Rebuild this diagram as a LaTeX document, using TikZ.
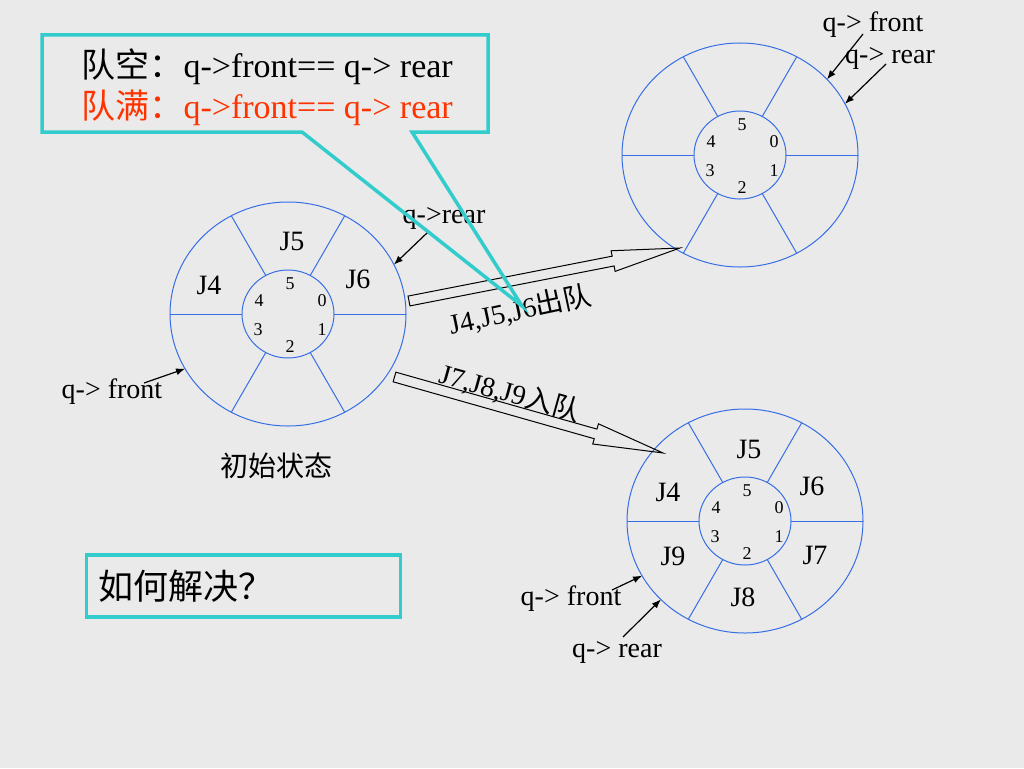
\documentclass[tikz,border=0pt]{standalone}
\usepackage{fontspec}
\setmainfont{Liberation Serif}
\newfontfamily\cjk{Noto Sans CJK SC}
\usetikzlibrary{arrows.meta,shapes.geometric}
\definecolor{bgray}{RGB}{234,234,234}
\definecolor{ringblue}{RGB}{55,110,230}
\definecolor{callteal}{RGB}{51,204,204}
\definecolor{fullred}{RGB}{255,51,0}
\tikzset{
  ring/.style={ellipse, draw=ringblue, line width=1pt, inner sep=0pt, outer sep=0pt},
  spoke/.style={draw=ringblue, line width=1pt},
  job/.style={font=\fontsize{28}{30}\selectfont},
  idx/.style={font=\fontsize{18}{20}\selectfont},
  ptr/.style={-{Latex[length=9pt,width=7pt]}, line width=1.2pt},
  hollow/.style={draw, line width=1pt},
  box/.style={draw=callteal, line width=3.5pt},
}
% ring with spokes and slot numbers
\newcommand{\qring}[3]{%
  \node[ring, minimum width=236, minimum height=224] (#1out) at (#2,#3) {};
  \node[ring, minimum width=92, minimum height=88] (#1in) at (#2,#3) {};
  \foreach \a in {0,60,...,300}
    \draw[spoke] (#1in.\a) -- (#1out.\a);
  \begin{scope}[shift={(#2,#3)}]
    \foreach \i/\dx/\dy in {5/2/-30, 4/-29/-13, 0/34/-13, 3/-30/16, 1/34/16, 2/2/33}
      \node[idx] (#1n\i) at (\dx,\dy) {\i};
  \end{scope}
}
\begin{document}
\begin{tikzpicture}[x=1pt, y=-1pt]
\fill[bgray] (0,0) rectangle (1024,768);
\useasboundingbox (0,0) rectangle (1024,768);
% Rings
\qring{A}{288}{314}
\qring{B}{740}{155}
\qring{C}{745}{521}
% Jobs
\node[job] (A5) at (292,241) {J5};
\node[job] (A4) at (209,285) {J4};
\node[job] (A6) at (358,279) {J6};
\node[job] (C5) at (749,449) {J5};
\node[job] (C4) at (668,492) {J4};
\node[job] (C6) at (812,486) {J6};
\node[job] (C9) at (673,556) {J9};
\node[job] (C7) at (815,555) {J7};
\node[job] (C8) at (743,597) {J8};
\node[job] (init) at (276,466) {\cjk 初始状态};
% Pointers
\node[job] (Afront) at (112,392) {q-> front};
\node[job] (Arear) at (444,218) {q->rear};
\node[job] (Bfront) at (873,25) {q-> front};
\node[job] (Brear) at (890,58) {q-> rear};
\node[job] (Cfront) at (571,599) {q-> front};
\node[job] (Crear) at (617,652) {q-> rear};
\coordinate (Afront tail) at (144,383);
\coordinate (Arear tail) at (428,232);
\coordinate (Bfront tail) at (863,34);
\coordinate (Brear tail) at (886,64);
\coordinate (Cfront tail) at (612,590);
\coordinate (Crear tail) at (623,637);
\draw[ptr] (Afront tail) -- (Aout.208);
\draw[ptr] (Arear tail) -- (Aout.25);
\draw[ptr] (Bfront tail) -- (Bout.41);
\draw[ptr] (Brear tail) -- (Bout.26);
\draw[ptr] (Cfront tail) -- (Cout.208);
\draw[ptr] (Crear tail) -- (Cout.223);
% Block arrows
\coordinate (deq) at (409,301);
\coordinate (enq) at (394.5,377);
\begin{scope}[shift={(deq)}, rotate=11.07]
\draw[hollow] (0,-5) -- (208,-5) -- (208,-10.5) -- (276,0) -- (208,10.5) -- (208,5) -- (0,5) -- cycle;
\end{scope}
\begin{scope}[shift={(enq)}, rotate=-15.8]
\draw[hollow] (0,-5) -- (209,-5) -- (209,-10.5) -- (279,0) -- (209,10.5) -- (209,5) -- (0,5) -- cycle;
\end{scope}
\node[job, rotate=12] (deqlbl) at (520,310) {J4,J5,J6{\cjk 出队}};
\node[job, rotate=-15.5] (enqlbl) at (510,393) {J7,J8,J9{\cjk 入队}};
% Callout
\coordinate (tip) at (522,306);
\draw[box, line join=miter] (42,35) -- (488,35) -- (488,132) -- (412,132) -- (tip) -- (302,132) -- (42,132) -- cycle;
\node[anchor=west, font=\fontsize{34}{36}\selectfont] (empty) at (78,67) {{\cjk 队空：}q->front== q-> rear};
\node[anchor=west, font=\fontsize{34}{36}\selectfont, text=fullred] (full) at (78,108) {{\cjk 队满：}q->front== q-> rear};
% Question
\node[box, text width=290, minimum height=62, align=left, inner xsep=12, font=\fontsize{35}{38}\selectfont] (how) at (243.5,586) {\cjk 如何解决？};
\end{tikzpicture}
\end{document}
